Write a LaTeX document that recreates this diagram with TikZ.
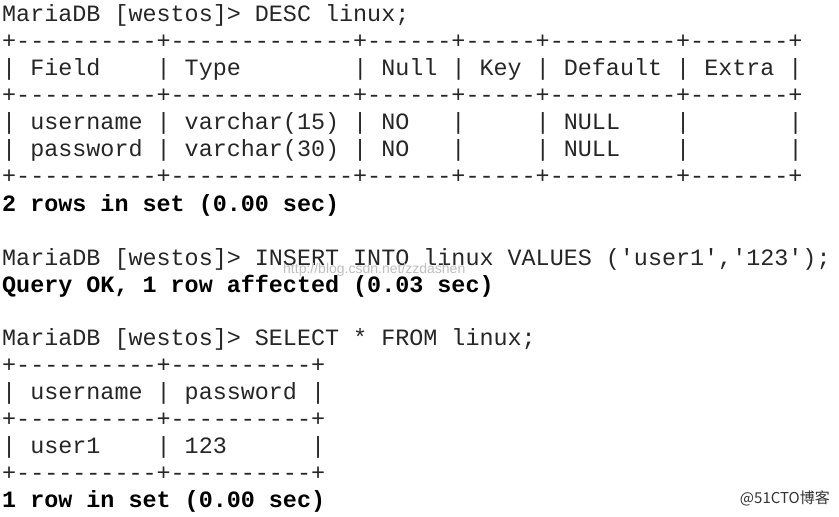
\documentclass[tikz,border=0pt]{standalone}
\usepackage{fontspec}
\setmonofont{Liberation Mono}
\newfontfamily\cjkfont{Noto Sans CJK SC}
\setsansfont{Liberation Sans}

\begin{document}
\begin{tikzpicture}[x=1pt,y=1pt]
\tikzset{line/.style={anchor=base west,inner sep=0pt,font=\fontsize{23.4}{27}\ttfamily,text=black!85}}
\tikzset{bold/.style={line,font=\fontsize{23.4}{27}\ttfamily\bfseries,text=black}}
\useasboundingbox (0,0) rectangle (839,-517);
\fill [white] (0,0) rectangle (839,-517);
\node [line] (l1) at (2,-21) {MariaDB~[westos]>~DESC~linux;};
\node [line] (l2) at (2,-48) {+----------+-------------+------+-----+---------+-------+};
\node [line] (l3) at (2,-75) {|~Field~~~~|~Type~~~~~~~~|~Null~|~Key~|~Default~|~Extra~|};
\node [line] (l4) at (2,-102) {+----------+-------------+------+-----+---------+-------+};
\node [line] (l5) at (2,-129) {|~username~|~varchar(15)~|~NO~~~|~~~~~|~NULL~~~~|~~~~~~~|};
\node [line] (l6) at (2,-156) {|~password~|~varchar(30)~|~NO~~~|~~~~~|~NULL~~~~|~~~~~~~|};
\node [line] (l7) at (2,-183) {+----------+-------------+------+-----+---------+-------+};
\node [bold] (l8) at (2,-211) {2~rows~in~set~(0.00~sec)};
\node [line] (l9) at (2,-265) {MariaDB~[westos]>~INSERT~INTO~linux~VALUES~(\char39 user1\char39,\char39 123\char39);};
\node [bold] (l10) at (2,-292) {Query~OK,~1~row~affected~(0.03~sec)};
\node [line] (l11) at (2,-345) {MariaDB~[westos]>~SELECT~*~FROM~linux;};
\node [line] (l12) at (2,-372) {+----------+----------+};
\node [line] (l13) at (2,-399) {|~username~|~password~|};
\node [line] (l14) at (2,-426) {+----------+----------+};
\node [line] (l15) at (2,-453) {|~user1~~~~|~123~~~~~~|};
\node [line] (l16) at (2,-480) {+----------+----------+};
\node [bold] (l17) at (2,-507) {1~row~in~set~(0.00~sec)};
% watermarks
\node [anchor=base west,inner sep=0pt,font=\fontsize{14}{14}\sffamily,text=black!25] (mark) at (283,-273) {http://blog.csdn.net/zzdashen};
\node [anchor=base east,inner sep=0pt,font=\fontsize{15}{15}\cjkfont,text=black!80] (logo) at (830,-503) {@51CTO博客};
\end{tikzpicture}
\end{document}
